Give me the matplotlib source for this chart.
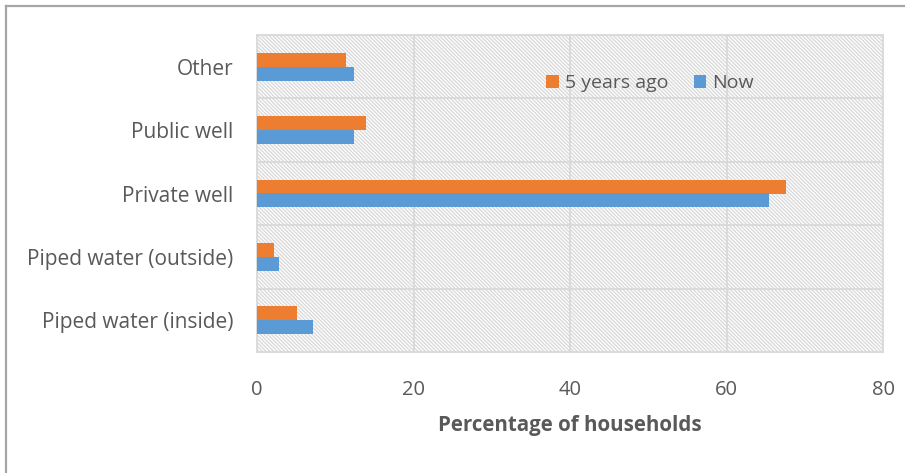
import matplotlib
matplotlib.use("Agg")
import matplotlib.pyplot as plt
from matplotlib.patches import Rectangle
from matplotlib.lines import Line2D
import numpy as np

categories = ["Piped water (inside)", "Piped water (outside)", "Private well",
              "Public well", "Other"]
five_years_ago = [5.1, 2.2, 67.6, 13.9, 11.4]
now = [7.1, 2.8, 65.4, 12.4, 12.4]
x_ticks = [0, 20, 40, 60, 80]

ORANGE = "#ED7D31"
BLUE = "#5B9BD5"
GRID = "#D9D9D9"
TEXT = "#595959"

plt.rcParams["font.family"] = ["Open Sans", "DejaVu Sans"]
plt.rcParams["hatch.color"] = "#DADADA"
plt.rcParams["hatch.linewidth"] = 1.0

fig = plt.figure(figsize=(9.05, 4.73), dpi=100)
ax = fig.add_axes([257 / 905, 1 - 352 / 473, (883 - 257) / 905, (352 - 35) / 473])

# hatched plot-area fill
bg = Rectangle((0, 0), 1, 1, transform=ax.transAxes, facecolor="white",
               edgecolor="#DADADA", hatch="\\" * 9, linewidth=0, zorder=0)
ax.add_patch(bg)

y = np.arange(len(categories))
h = 0.22
ax.barh(y + h / 2, five_years_ago, height=h, color=ORANGE, label="5 years ago", zorder=3)
ax.barh(y - h / 2, now, height=h, color=BLUE, label="Now", zorder=3)

ax.set_xlim(0, 80)
ax.set_ylim(-0.5, len(categories) - 0.5)
ax.set_xticks(x_ticks)
ax.set_yticks(y)
ax.set_yticklabels(categories)

for v in x_ticks[1:-1]:
    ax.axvline(v, color=GRID, lw=1.3, zorder=1)
for b in np.arange(0.5, len(categories) - 0.5, 1):
    ax.axhline(b, color=GRID, lw=1.3, zorder=1)

for s in ax.spines.values():
    s.set_color(GRID)
    s.set_linewidth(1.3)

ax.tick_params(axis="both", length=0, labelcolor=TEXT)
ax.tick_params(axis="x", pad=20, labelsize=14.5)
ax.tick_params(axis="y", pad=17, labelsize=15)

ax.set_xlabel("Percentage of households", fontsize=14.8, fontweight="bold",
              color=TEXT, labelpad=11)

leg = fig.legend(loc="center", bbox_to_anchor=(650 / 905, 1 - 83 / 473), ncol=2,
                 frameon=False, fontsize=14, handlelength=0.65, handleheight=0.65,
                 handletextpad=0.3, columnspacing=1.3, borderpad=0)
for t in leg.get_texts():
    t.set_color(TEXT)

# outer chart border (top and left edges)
fig.add_artist(Line2D([5.5 / 905, 1], [1 - 6 / 473, 1 - 6 / 473],
                      transform=fig.transFigure, color="#A6A6A6", lw=1.6))
fig.add_artist(Line2D([5.5 / 905, 5.5 / 905], [0, 1 - 6 / 473],
                      transform=fig.transFigure, color="#A6A6A6", lw=1.6))

fig.savefig("out.png", dpi=100, facecolor="white")
